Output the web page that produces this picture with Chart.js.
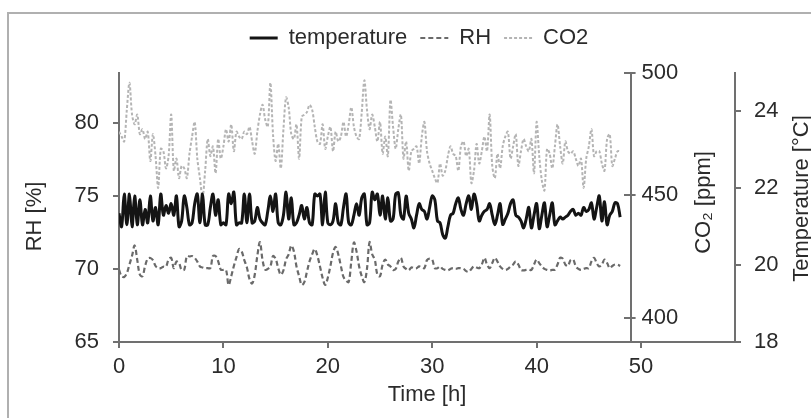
<!DOCTYPE html>
<html>
<head>
<meta charset="utf-8">
<script src="https://cdn.jsdelivr.net/npm/chart.js@4"></script>
<style>
  html, body { margin: 0; padding: 0; background: #fff; overflow: hidden; }
  #wrap { position: relative; width: 811px; height: 418px; overflow: hidden; }
  #frame { position: absolute; left: 7px; top: 12px; width: 820px; height: 420px; border: 2px solid #b0b0b0; box-sizing: border-box; }
  canvas { position: absolute; left: 0; top: 0; }
</style>
</head>
<body>
<div id="wrap">
  <div id="frame"></div>
  <canvas id="chart" width="818" height="418"></canvas>
</div>
<script>
// measurement every 15 min, 0 .. 48 h
const SAMPLE_STEP_H = 0.25;

// temperature [°C]
const temperature = [
  21.35, 21.0, 21.85, 21.05,
  21.85, 21.0, 21.8, 21.05,
  21.7, 21.05, 21.45, 21.1,
  21.8, 21.15, 21.5, 21.05,
  21.85, 21.3, 21.55, 21.35,
  21.6, 21.3, 21.8, 21.0,
  21.15, 21.8, 21.5, 21.05,
  21.1, 21.6, 21.85, 21.1,
  21.85, 21.05, 21.05, 21.5,
  21.85, 21.3, 21.7, 21.05,
  21.1, 21.05, 21.85, 21.6,
  21.9, 21.05, 21.1, 21.1,
  21.85, 21.1, 21.85, 21.1,
  21.15, 21.5, 21.2, 21.1,
  21.05, 21.4, 21.8, 21.4,
  21.85, 21.1, 21.05, 21.3,
  21.9, 21.2, 21.75, 21.05,
  21.1, 21.3, 21.55, 21.2,
  21.5, 21.1, 21.05, 21.85,
  21.8, 21.85, 21.05, 21.9,
  21.1, 21.05, 21.15, 21.6,
  21.1, 21.05, 21.5, 21.85,
  21.1, 21.05, 21.3, 21.6,
  21.3, 21.75, 21.85, 21.05,
  21.1, 21.9, 21.7, 21.85,
  21.3, 21.8, 21.2, 21.75,
  21.15, 21.2, 21.85, 21.88,
  21.3, 21.2, 21.8, 21.35,
  21.2, 20.97, 21.3, 21.6,
  21.45, 21.4, 21.2, 21.5,
  21.8, 21.7, 21.15, 21.1,
  20.8, 20.7, 21.0, 21.3,
  21.35, 21.6, 21.75, 21.45,
  21.3, 21.6, 21.8, 21.45,
  21.85, 21.6, 21.15, 21.3,
  21.4, 21.45, 21.6, 21.3,
  21.05, 21.3, 21.6, 21.06,
  21.2, 21.35, 21.6, 21.7,
  21.3, 21.25, 21.15, 20.97,
  21.2, 21.5, 20.97, 21.3,
  21.6, 20.95, 21.3, 21.62,
  21.0, 21.3, 21.62, 21.05,
  21.15, 21.25, 21.2, 21.25,
  21.3, 21.4, 21.45, 21.3,
  21.35, 21.3, 21.5, 21.4,
  21.45, 21.62, 21.2, 21.5,
  21.8, 21.15, 21.65, 21.05,
  21.3, 21.4, 21.62, 21.6,
  21.25
];

// relative humidity [%]
const rh = [
  69.95, 69.5, 69.45, 69.7,
  70.3, 70.9, 71.6, 70.6,
  69.6, 69.5, 70.2, 70.7,
  70.75, 70.6, 70.2, 70.05,
  70.05, 70.15, 70.15, 70.64,
  70.76, 70.05, 70.5, 70.4,
  69.93, 69.95, 70.88, 70.85,
  70.88, 70.76, 70.5, 70.17,
  70.1, 70.05, 70.05, 70.05,
  70.88, 70.88, 70.52, 69.95,
  69.93, 69.93, 68.9, 69.5,
  70.2, 70.8, 71.36, 71.2,
  70.6, 70.1, 69.3, 69.0,
  69.6, 70.9, 71.83, 70.6,
  69.95, 70.0, 70.17, 70.88,
  70.7, 70.05, 69.6, 69.9,
  70.64, 71.0, 71.6, 71.2,
  70.17, 69.5, 68.9, 69.1,
  69.8, 70.52, 71.0, 71.36,
  70.9, 70.17, 69.4, 68.9,
  69.4, 70.2, 71.1, 71.5,
  71.0, 70.2, 69.45, 69.2,
  69.1, 70.5, 71.8, 71.2,
  70.17, 69.5, 69.1, 70.0,
  71.83, 71.0, 70.64, 69.6,
  69.5, 70.3, 70.64, 70.3,
  70.17, 69.93, 70.0, 70.5,
  70.76, 70.17, 70.0, 69.9,
  70.1, 70.05, 70.05, 70.17,
  70.1, 70.05, 70.6, 70.7,
  70.64, 70.05, 70.05, 70.17,
  70.0, 69.93, 69.9, 70.0,
  70.05, 70.0, 70.05, 70.05,
  70.0, 69.85, 69.8, 70.0,
  70.17, 70.1, 70.05, 70.3,
  70.76, 70.3, 70.05, 70.4,
  70.76, 70.5, 70.17, 70.0,
  69.93, 70.0, 70.17, 70.3,
  70.52, 70.3, 69.93, 69.9,
  69.93, 69.95, 69.93, 70.3,
  70.64, 70.4, 70.17, 70.0,
  69.93, 69.9, 69.93, 69.95,
  70.3, 70.76, 70.7, 70.3,
  70.2, 70.6, 70.64, 70.17,
  70.0, 69.93, 70.0, 70.05,
  70.05, 70.5, 70.76, 70.4,
  70.17, 70.3, 70.64, 70.4,
  70.05, 70.2, 70.3, 70.29,
  70.2
];

// CO2 [ppm]
const co2 = [
  476, 474, 472, 485,
  496, 483, 479, 483,
  475, 477, 473, 476,
  464, 475, 466, 453,
  469, 468, 461, 466,
  483, 460, 465, 457,
  462, 461, 457, 467,
  474, 480, 465, 457,
  449, 460, 473, 466,
  470, 459, 473, 465,
  470, 477, 472, 479,
  468, 476, 474, 473,
  476, 475, 478, 472,
  467, 476, 483, 487,
  481, 478, 496, 475,
  464, 471, 461, 477,
  490, 486, 475, 473,
  479, 465, 482, 483,
  484, 487, 485, 478,
  472, 471, 479, 469,
  474, 478, 468, 476,
  472, 474, 480, 474,
  479, 486, 478, 474,
  473, 484, 497, 485,
  477, 483, 478, 472,
  480, 467, 474, 466,
  489, 478, 469, 477,
  483, 465, 472, 460,
  468, 469, 470, 463,
  474, 480, 468, 463,
  460, 457, 455, 463,
  458, 460, 466, 470,
  467, 466, 460, 470,
  472, 466, 469, 455,
  460, 471, 463, 468,
  474, 468, 483, 462,
  457, 467, 461, 470,
  474, 476, 465, 470,
  475, 462, 468, 473,
  470, 468, 473, 459,
  480, 466, 456, 452,
  469, 467, 461, 470,
  479, 470, 463, 472,
  468, 467, 468, 465,
  462, 465, 453, 465,
  470, 477, 466, 468,
  468, 463, 460, 473,
  475, 462, 465, 468,
  468
];

const hours = temperature.map((_, i) => i * SAMPLE_STEP_H);
const CO2_AXIS_AT = 49; // hours, where the CO2 axis crosses the time axis

const FONT = "'Liberation Sans', Arial, sans-serif";
const FONT_SIZE = 22;
const TEXT = '#2b2b2b';
const AXIS = '#707070';

const toPoints = arr => arr.map((v, i) => ({ x: hours[i], y: v }));

// a bit more room between legend and plot
const legendGap = {
    id: 'legendGap',
    beforeInit(chart) {
        const fit = chart.legend.fit;
        chart.legend.fit = function () {
            fit.call(this);
            this.height += 14;
        };
    }
};

function drawVerticalTitle(ctx, text, x, y) {
    ctx.save();
    ctx.translate(x, y);
    ctx.rotate(-Math.PI / 2);
    ctx.textAlign = 'center';
    ctx.textBaseline = 'middle';
    ctx.fillText(text, 0, 0);
    ctx.restore();
}

// CO2 axis sits inside the plot: its labels go right of it; all y titles read bottom-to-top
const axisText = {
    id: 'axisText',
    afterDraw(chart) {
        const s = chart.scales.yCO2;
        const xPix = chart.scales.x.getPixelForValue(CO2_AXIS_AT);
        const { top, bottom } = chart.chartArea;
        const mid = (top + bottom) / 2;
        const ctx = chart.ctx;
        ctx.save();
        // short tick stubs on the right side too (axis ticks cross the line)
        ctx.strokeStyle = AXIS;
        ctx.lineWidth = 2;
        s.ticks.forEach(t => {
            const y = Math.round(s.getPixelForValue(t.value));
            ctx.beginPath();
            ctx.moveTo(xPix, y);
            ctx.lineTo(xPix + 5, y);
            ctx.stroke();
        });
        ctx.fillStyle = TEXT;
        ctx.font = FONT_SIZE + 'px ' + FONT;
        ctx.textAlign = 'left';
        ctx.textBaseline = 'middle';
        s.ticks.forEach(t => {
            ctx.fillText(String(t.value), xPix + 11, s.getPixelForValue(t.value));
        });
        drawVerticalTitle(ctx, 'CO\u2082 [ppm]', xPix + 73, mid - 5);
        drawVerticalTitle(ctx, 'RH [%]', chart.scales.y.left + 15, mid + 9);
        drawVerticalTitle(ctx, 'Temperature [°C]', chart.scales.yT.right - 16, mid - 9);
        ctx.restore();
    }
};

// legend line samples take the dataset's own dash / width
function legendLabels(chart) {
    const items = Chart.defaults.plugins.legend.labels.generateLabels(chart);
    items.forEach(item => {
        const ds = chart.data.datasets[item.datasetIndex];
        item.lineDash = ds.borderDash || [];
        item.lineWidth = ds.borderWidth;
        item.strokeStyle = ds.borderColor;
        item.pointStyle = 'line';
    });
    return items;
}

const tickFont = { family: FONT, size: FONT_SIZE };
const axisGrid = { drawOnChartArea: false, drawTicks: true, tickLength: 6, color: AXIS, lineWidth: 2 };
const axisBorder = { color: AXIS, width: 2 };

new Chart(document.getElementById('chart'), {
    type: 'line',
    data: {
        datasets: [
            {
                label: 'temperature',
                data: toPoints(temperature),
                yAxisID: 'yT',
                borderColor: '#141414',
                borderWidth: 3,
                pointRadius: 0,
                tension: 0.35
            },
            {
                label: 'RH',
                data: toPoints(rh),
                yAxisID: 'y',
                borderColor: '#6a6a6a',
                borderWidth: 2.2,
                borderDash: [5, 3],
                pointRadius: 0,
                tension: 0.35
            },
            {
                label: 'CO2',
                data: toPoints(co2),
                yAxisID: 'yCO2',
                borderColor: '#b4b4b4',
                borderWidth: 2,
                borderDash: [3, 2],
                pointRadius: 0,
                tension: 0.3
            }
        ]
    },
    options: {
        responsive: false,
        animation: false,
        devicePixelRatio: 1,
        layout: { padding: { left: 20, right: 0, top: 14, bottom: 6 } },
        plugins: {
            legend: {
                display: true,
                position: 'top',
                labels: {
                    usePointStyle: true,
                    pointStyle: 'line',
                    pointStyleWidth: 28,
                    padding: 13,
                    color: TEXT,
                    font: tickFont,
                    generateLabels: legendLabels
                }
            },
            tooltip: { enabled: false }
        },
        scales: {
            x: {
                type: 'linear',
                min: 0,
                max: 59,
                afterFit: s => { s.height = 70; },
                ticks: { stepSize: 10, includeBounds: false, color: TEXT, padding: 6, font: tickFont },
                grid: axisGrid,
                border: axisBorder,
                title: { display: true, text: 'Time [h]', color: TEXT, font: tickFont, padding: { top: 2, bottom: 4 } }
            },
            y: {
                position: 'left',
                min: 65,
                max: 83.4,
                afterFit: s => { s.width = 99; },
                ticks: { stepSize: 5, includeBounds: false, color: TEXT, padding: 14, font: tickFont },
                grid: axisGrid,
                border: axisBorder
            },
            yT: {
                position: 'right',
                min: 18,
                max: 25,
                afterFit: s => { s.width = 83; },
                ticks: { stepSize: 2, includeBounds: false, color: TEXT, padding: 13, font: tickFont },
                grid: axisGrid,
                border: axisBorder
            },
            yCO2: {
                axis: 'y',
                position: { x: CO2_AXIS_AT },
                min: 390,
                max: 500,
                ticks: { display: false, stepSize: 50, includeBounds: false },
                grid: axisGrid,
                border: axisBorder
            }
        }
    },
    plugins: [legendGap, axisText]
});
</script>
</body>
</html>
